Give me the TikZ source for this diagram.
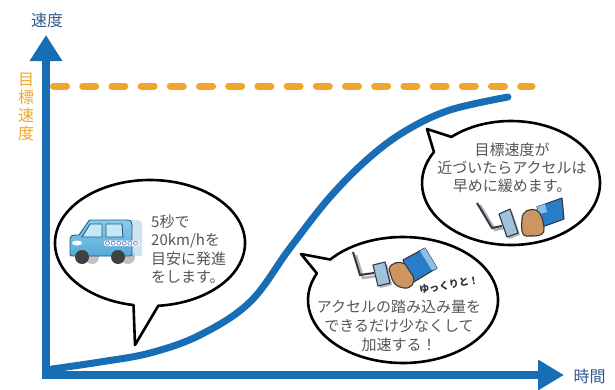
\documentclass[tikz,border=0pt]{standalone}
\usepackage{fontspec}
\newfontfamily\jp{Noto Sans CJK JP}
\usetikzlibrary{arrows.meta}

\definecolor{axisblue}{RGB}{24,110,180}
\definecolor{labelblue}{RGB}{50,90,145}
\definecolor{targetorange}{RGB}{240,165,45}
\definecolor{bubbletext}{RGB}{85,85,85}
\definecolor{carblue}{RGB}{135,205,235}
\definecolor{carblue2}{RGB}{85,170,215}
\definecolor{carghost}{RGB}{205,228,240}
\definecolor{caredge}{RGB}{40,90,130}
\definecolor{glass}{RGB}{195,232,246}
\definecolor{shoe}{RGB}{205,150,95}
\definecolor{legblue}{RGB}{40,125,200}
\definecolor{legblue2}{RGB}{140,190,230}
\definecolor{pedalblue}{RGB}{160,195,220}
\definecolor{iconline}{RGB}{55,55,65}
\definecolor{iconshadow}{RGB}{175,178,185}

\tikzset{
  axis/.style={draw=axisblue, line width=8pt, line join=miter},
  speed/.style={draw=axisblue, line width=7pt, line cap=round},
  target/.style={draw=targetorange, line width=7pt, line cap=round, dash pattern=on 13pt off 16.2pt},
  bubble/.style={draw=black, fill=white, line width=2.6pt, line join=round},
  bubbletxt/.style={text=bubbletext, inner sep=0pt, font=\jp\fontsize{15}{18.5}\selectfont},
  iconedge/.style={draw=iconline, line width=1.1pt, line join=round},
  pics/car/.style n args={4}{code={
    % body, windows, wheels of a small hatchback facing left
    \path[#1] (0,33) -- (0,19) .. controls (0,16) and (2,15) .. (5,15) -- (9,15)
      -- (18,2) .. controls (19,0) .. (21,0) -- (57,0) .. controls (61,0) and (62,2) .. (62,5)
      -- (62,33) .. controls (62,36) .. (59,36) -- (3,36) .. controls (0,36) .. (0,33) -- cycle;
    \path[#2] (20,4) -- (32,4) -- (32,17) -- (12,17) -- cycle;
    \path[#2] (36,4) -- (52,4) -- (53,17) -- (36,17) -- cycle;
    \path[#3] (12,37) circle[radius=7];
    \path[#3] (48,37) circle[radius=7];
    \path[#4] (7,23) ellipse[x radius=5, y radius=2.5];
  }}
}

\begin{document}
\begin{tikzpicture}[x=1pt, y=-1pt]
\useasboundingbox (0,0) rectangle (615,389);

% axes
\coordinate (origin) at (46,375);
\coordinate (vtip) at (46,35);
\coordinate (htip) at (564,375);
\draw[axis, {Triangle[length=26pt, width=31pt]}-{Triangle[length=26pt, width=29pt]}]
  (vtip) -- (origin) -- (htip);
\node[text=labelblue, font=\jp\fontsize{16}{18}\selectfont] (vlabel) at (47,20) {速度};
\node[text=labelblue, font=\jp\fontsize{16}{18}\selectfont, anchor=west] (hlabel) at (570,376) {時間};

% target speed level
\coordinate (tstart) at (53.5,86);
\coordinate (tend) at (532,86);
\draw[target] (tstart) -- (tend);
\node[text=targetorange, align=center, inner sep=0pt,
      font=\jp\fontsize{16}{17.8}\selectfont] (tlabel) at (26,107) {目\\標\\速\\度};

% speed over time
\draw[speed] plot[smooth, tension=0.6] coordinates {(52,369) (100,362) (150,353) (200,335)
  (250,302) (290,248) (330,197) (370,157) (407,130) (450,110) (508,97)};

% bubble 1: start off gently
\coordinate (tail1) at (135,345);
\draw[bubble] (tail1) -- ([shift={(100:95 and 63)}]150,243)
  arc[start angle=100, end angle=445, x radius=95, y radius=63] -- cycle;
\pic at (80,220) {car={fill=carghost}{fill=white!60!carghost}{fill=iconshadow!80!white}{fill=none}};
\pic at (70,220) {car={draw=caredge, line width=0.9pt, top color=carblue, bottom color=carblue2}%
  {draw=caredge, line width=0.9pt, fill=glass}{fill=black!75}{fill=white}};
\fill[white, rounded corners=2pt] (104,240.5) rectangle (139,246);
\foreach \i in {0,...,5} \draw[draw={rgb,255:red,120;green,120;blue,200}, line width=0.7pt] (107.5+5.6*\i,243.2) circle[radius=2];
\node[bubbletxt, align=left, anchor=west] (t1) at (151,249) {5秒で\\20km/hを\\目安に発進\\をします。};

% bubble 2: press the accelerator gently
\coordinate (tail2) at (301,254);
\draw[bubble] (tail2) -- ([shift={(220:95 and 63)}]403,300)
  arc[start angle=220, end angle=565, x radius=95, y radius=63] -- cycle;
\draw[iconshadow, line width=2.4pt] (356,255) -- (363,278) -- (377,276);
\draw[iconline, line width=2pt, line join=miter] (353,252) -- (360,275) -- (374,273);
\fill[iconshadow] (375,267) -- (387,264) -- (392,285) -- (380,288) -- cycle;
\path[iconedge, fill=pedalblue] (373,265) -- (385,262) -- (390,283) -- (378,286) -- cycle;
\path[iconedge, fill=legblue] (403,260) -- (425,248) -- (437,268) -- (412,283) -- cycle;
\path[fill=legblue2] (420,251) -- (425,248) -- (437,268) -- (432,270.5) -- cycle;
\path[iconedge, fill=shoe] (389,269) .. controls (391,262) and (400,261) .. (405,264)
  -- (413,276) .. controls (416,283) and (411,289) .. (404,288)
  .. controls (397,287) and (394,284) .. (392,279) -- cycle;
\node[text=black!80, font=\jp\bfseries\fontsize{10}{12}\selectfont, rotate=10, inner sep=0pt] (slow) at (449,285) {ゆっくりと！};
\node[bubbletxt, align=center, font=\jp\fontsize{15}{19}\selectfont] (t2) at (399,326)
  {アクセルの踏み込み量を\\できるだけ少なくして\\加速する！};

% bubble 3: ease off near the target
\coordinate (tail3) at (427,129);
\draw[bubble] (tail3) -- ([shift={(228:89 and 62)}]511,183)
  arc[start angle=228, end angle=570, x radius=89, y radius=62] -- cycle;
\node[bubbletxt, align=center, font=\jp\fontsize{15}{18}\selectfont] (t3) at (512,168)
  {目標速度が\\近づいたらアクセルは\\早めに緩めます。};
\draw[iconshadow, line width=2.4pt] (480,205) -- (495,230) -- (504,228);
\draw[iconline, line width=2pt, line join=miter] (477,203) -- (492,228) -- (502,226);
\fill[iconshadow] (501,216) -- (512,211) -- (520,235) -- (509,239) -- cycle;
\path[iconedge, fill=pedalblue] (499,214) -- (510,209) -- (518,233) -- (507,237) -- cycle;
\path[iconedge, fill=legblue] (537,207) -- (562,198) -- (564,219) -- (542,227) -- cycle;
\path[fill=legblue2] (537,207) -- (545,204) -- (547,212) -- (539,214) -- cycle;
\path[iconedge, fill=shoe] (522,219) .. controls (522,211) and (530,208) .. (536,210)
  .. controls (541,212) and (543,220) .. (544,228)
  .. controls (545,234) and (540,236) .. (534,236) -- (526,236)
  .. controls (522,236) and (521,230) .. (522,219) -- cycle;
\end{tikzpicture}
\end{document}
